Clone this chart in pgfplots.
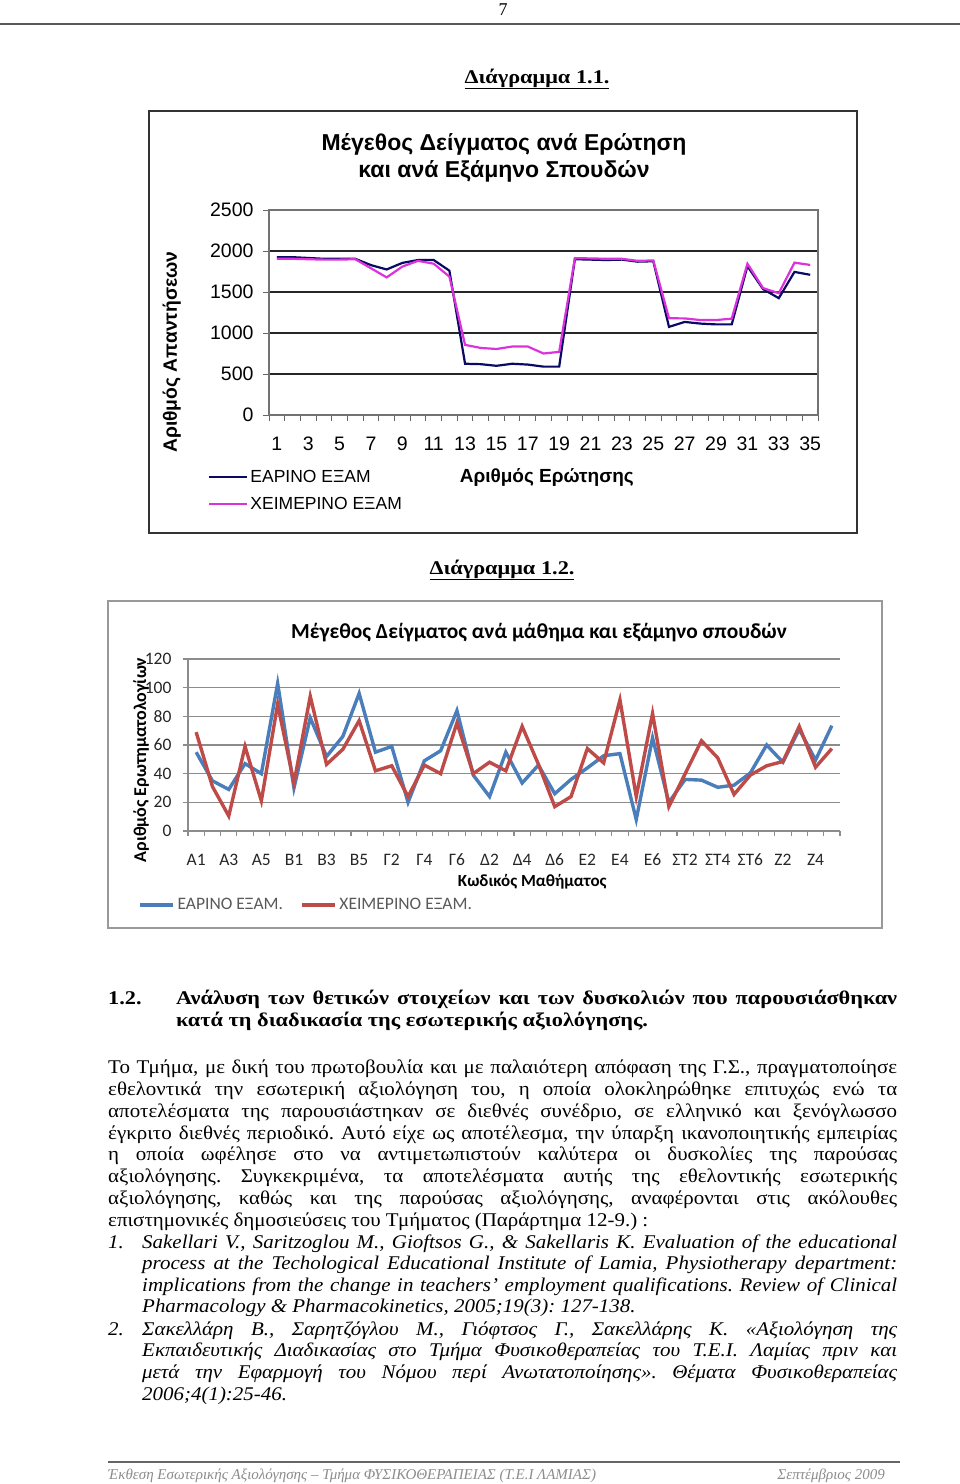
\documentclass[border=0pt]{standalone}
\usepackage{fontspec}
\setmainfont{Liberation Serif}
\newfontfamily\bodyfam[FakeStretch=1.08]{Liberation Serif}
\newfontfamily\headfam[FakeStretch=1.15]{Liberation Serif}
\newfontfamily\arialf{Liberation Sans}
\newfontfamily\calib{Carlito}
\usepackage{pgfplots}
\pgfplotsset{compat=1.18}
\definecolor{navyE}{RGB}{10,10,100}
\definecolor{magX}{RGB}{220,50,220}
\definecolor{blueE}{RGB}{74,126,187}
\definecolor{redX}{RGB}{190,75,72}
\newcommand\bodyf{\bodyfam\fontsize{19.4}{21.8}\selectfont}
\newcommand\headf{\headfam\bfseries\fontsize{19.4}{21.8}\selectfont}
\frenchspacing
\begin{document}
\begin{tikzpicture}
\path[use as bounding box, fill=white] (0pt,0pt) rectangle (960pt,-1484pt);
\begin{scope}[x=1pt,y=-1pt]
 % header
 \node[anchor=base, inner sep=0] at (503,15) {\fontsize{18}{20}\selectfont 7};
 \draw[line width=2pt, black!65] (0,24) -- (960,24);
 \node[anchor=base, inner sep=0] at (537,83) {\headf\underline{Διάγραμμα 1.1.}};
 % frame 1
 \draw[line width=1.8pt, black!80] (149,111) rectangle (857,533);
 \node[anchor=base, inner sep=0] at (504,150) {\arialf\bfseries\fontsize{23}{26}\selectfont Μέγεθος Δείγματος ανά Ερώτηση};
 \node[anchor=base, inner sep=0] at (504,177) {\arialf\bfseries\fontsize{23}{26}\selectfont και ανά Εξάμηνο Σπουδών};
 % diagram 1.2 caption
 \node[anchor=base, inner sep=0] at (502,574) {\headf\underline{Διάγραμμα 1.2.}};
 \draw[line width=2pt, black!40] (108,601) rectangle (882,928);
 \node[anchor=base, inner sep=0] at (539,638) {\calib\bfseries\fontsize{21.4}{24}\selectfont Μέγεθος Δείγματος ανά μάθημα και εξάμηνο σπουδών};
 % heading
 \node[anchor=base west, inner sep=0] at (108,1004) {\headf 1.2.};
 \node[anchor=base west, inner sep=0] at (176,1004) {\headf\makebox[721pt][s]{Ανάλυση των θετικών στοιχείων και των δυσκολιών που παρουσιάσθηκαν}};
 \node[anchor=base west, inner sep=0] at (176,1026) {\headf κατά τη διαδικασία της εσωτερικής αξιολόγησης.};
 % paragraph
 \node[anchor=base west, inner sep=0] at (108,1073) {\bodyf\makebox[789pt][s]{Το Τμήμα, με δική του πρωτοβουλία και με παλαιότερη απόφαση της Γ.Σ., πραγματοποίησε}};
 \node[anchor=base west, inner sep=0] at (108,1095) {\bodyf\makebox[789pt][s]{εθελοντικά την εσωτερική αξιολόγηση του, η οποία ολοκληρώθηκε επιτυχώς ενώ τα}};
 \node[anchor=base west, inner sep=0] at (108,1117) {\bodyf\makebox[789pt][s]{αποτελέσματα της παρουσιάστηκαν σε διεθνές συνέδριο, σε ελληνικό και ξενόγλωσσο}};
 \node[anchor=base west, inner sep=0] at (108,1139) {\bodyf\makebox[789pt][s]{έγκριτο διεθνές περιοδικό. Αυτό είχε ως αποτέλεσμα, την ύπαρξη ικανοποιητικής εμπειρίας}};
 \node[anchor=base west, inner sep=0] at (108,1160) {\bodyf\makebox[789pt][s]{η οποία ωφέλησε στο να αντιμετωπιστούν καλύτερα οι δυσκολίες της παρούσας}};
 \node[anchor=base west, inner sep=0] at (108,1182) {\bodyf\makebox[789pt][s]{αξιολόγησης. Συγκεκριμένα, τα αποτελέσματα αυτής της εθελοντικής εσωτερικής}};
 \node[anchor=base west, inner sep=0] at (108,1204) {\bodyf\makebox[789pt][s]{αξιολόγησης, καθώς και της παρούσας αξιολόγησης, αναφέρονται στις ακόλουθες}};
 \node[anchor=base west, inner sep=0] at (108,1226) {\bodyf επιστημονικές δημοσιεύσεις του Τμήματος (Παράρτημα 12-9.) :};
 % references
 \node[anchor=base west, inner sep=0] at (108,1248) {\bodyf\itshape 1.};
 \node[anchor=base west, inner sep=0] at (142,1248) {\bodyf\itshape\makebox[755pt][s]{Sakellari V., Saritzoglou M., Gioftsos G., \& Sakellaris K. Evaluation of the educational}};
 \node[anchor=base west, inner sep=0] at (142,1269) {\bodyf\itshape\makebox[755pt][s]{process at the Techological Educational Institute of Lamia, Physiotherapy department:}};
 \node[anchor=base west, inner sep=0] at (142,1291) {\bodyf\itshape\makebox[755pt][s]{implications from the change in teachers’ employment qualifications. Review of Clinical}};
 \node[anchor=base west, inner sep=0] at (142,1312) {\bodyf\itshape Pharmacology \& Pharmacokinetics, 2005;19(3): 127-138.};
 \node[anchor=base west, inner sep=0] at (108,1335) {\bodyf\itshape 2.};
 \node[anchor=base west, inner sep=0] at (142,1335) {\bodyf\itshape\makebox[755pt][s]{Σακελλάρη Β., Σαρητζόγλου Μ., Γιόφτσος Γ., Σακελλάρης Κ. «Αξιολόγηση της}};
 \node[anchor=base west, inner sep=0] at (142,1356) {\bodyf\itshape\makebox[755pt][s]{Εκπαιδευτικής Διαδικασίας στο Τμήμα Φυσικοθεραπείας του Τ.Ε.Ι. Λαμίας πριν και}};
 \node[anchor=base west, inner sep=0] at (142,1378) {\bodyf\itshape\makebox[755pt][s]{μετά την Εφαρμογή του Νόμου περί Ανωτατοποίησης». Θέματα Φυσικοθεραπείας}};
 \node[anchor=base west, inner sep=0] at (142,1400) {\bodyf\itshape 2006;4(1):25-46.};
 % footer
 \draw[line width=2pt, black!60] (108,1462) -- (900,1462);
 \node[anchor=base west, inner sep=0, text=black!45] at (108,1479) {\fontsize{15}{17}\selectfont\itshape Έκθεση Εσωτερικής Αξιολόγησης – Τμήμα ΦΥΣΙΚΟΘΕΡΑΠΕΙΑΣ (Τ.Ε.Ι ΛΑΜΙΑΣ)};
 \node[anchor=base east, inner sep=0, text=black!45] at (885,1479) {\fontsize{15}{17}\selectfont\itshape Σεπτέμβριος 2009};
\end{scope}

% ---------------- Chart 1 ----------------
\begin{axis}[
  at={(269pt,-415pt)}, anchor=south west,
  scale only axis, width=549pt, height=205pt,
  xmin=0.5, xmax=35.5, ymin=0, ymax=2500,
  xtick={0.5,1.5,...,35.5}, xticklabels={},
  extra x ticks={1,3,...,35},
  extra x tick style={major tick length=0pt, grid=none},
  ytick={0,500,...,2500},
  xtick pos=bottom, ytick pos=left,
  tick align=outside, major tick length=6pt,
  ymajorgrids, grid style={black!85, line width=1.2pt},
  axis line style={black!55, line width=1.3pt},
  tick style={black!60, line width=1pt},
  /pgf/number format/assume math mode=true,
  /pgf/number format/1000 sep={},
  ticklabel style={font=\arialf\fontsize{19.5}{21}\selectfont},
  xticklabel style={yshift=-18pt, text height=14pt, text depth=0pt},
  yticklabel style={xshift=-6pt},
  xlabel={Αριθμός Ερώτησης},
  ylabel={Αριθμός Απαντήσεων},
  xlabel style={at={(axis description cs:0.506,-0.307)}, anchor=center, font=\arialf\bfseries\fontsize{19}{21}\selectfont},
  ylabel style={at={(axis description cs:-0.177,0.307)}, anchor=center, font=\arialf\bfseries\fontsize{19.3}{21}\selectfont},
  legend cell align=left,
  legend style={at={(axis description cs:-0.111,-0.263)}, anchor=north west, draw=none, fill=none, inner sep=0pt, row sep=11pt, font=\arialf\fontsize{17.5}{19}\selectfont, nodes={inner xsep=2pt, inner ysep=1pt}},
  legend image code/.code={\draw[#1] (0pt,0pt) -- (38pt,0pt);},
]
\addplot[navyE, line width=2.2pt] coordinates {
(1,1925)(2,1925)(3,1915)(4,1905)(5,1905)(6,1905)(7,1828)(8,1775)(9,1855)(10,1890)
(11,1890)(12,1760)(13,625)(14,620)(15,600)(16,625)(17,615)(18,590)(19,590)(20,1900)
(21,1895)(22,1890)(23,1895)(24,1870)(25,1875)(26,1075)(27,1135)(28,1115)(29,1105)(30,1105)
(31,1815)(32,1535)(33,1425)(34,1745)(35,1710)};
\addlegendentry{ΕΑΡΙΝΟ ΕΞΑΜ}
\addplot[magX, line width=2.2pt] coordinates {
(1,1905)(2,1905)(3,1900)(4,1895)(5,1895)(6,1900)(7,1790)(8,1678)(9,1810)(10,1880)
(11,1845)(12,1688)(13,855)(14,818)(15,805)(16,835)(17,835)(18,750)(19,770)(20,1912)
(21,1910)(22,1905)(23,1905)(24,1880)(25,1885)(26,1180)(27,1178)(28,1158)(29,1158)(30,1175)
(31,1845)(32,1548)(33,1485)(34,1858)(35,1830)};
\addlegendentry{ΧΕΙΜΕΡΙΝΟ ΕΞΑΜ}
\end{axis}

% ---------------- Chart 2 ----------------
\begin{axis}[
  at={(188pt,-831pt)}, anchor=south west,
  scale only axis, width=652pt, height=172pt,
  xmin=-0.5, xmax=39.5, ymin=0, ymax=120,
  axis x line*=bottom, axis y line*=left,
  xtick={-0.5,0.5,...,39.5}, xticklabels={},
  extra x ticks={0,2,...,38},
  extra x tick labels={Α1,Α3,Α5,Β1,Β3,Β5,Γ2,Γ4,Γ6,Δ2,Δ4,Δ6,Ε2,Ε4,Ε6,ΣΤ2,ΣΤ4,ΣΤ6,Ζ2,Ζ4},
  extra x tick style={major tick length=0pt, grid=none},
  ytick={0,20,...,120},
  tick align=outside, major tick length=5pt,
  ymajorgrids, grid style={black!45, line width=1.3pt},
  axis line style={black!45, line width=1.3pt},
  tick style={black!45, line width=1.1pt},
  /pgf/number format/assume math mode=true,
  ticklabel style={font=\calib\fontsize{17.5}{19}\selectfont, text=black!85},
  xticklabel style={yshift=-19pt, text height=12pt, text depth=0pt},
  yticklabel style={xshift=-8pt},
  xlabel={Κωδικός Μαθήματος},
  ylabel={Αριθμός Ερωτηματολογίων},
  xlabel style={at={(axis description cs:0.528,-0.297)}, anchor=center, font=\calib\bfseries\fontsize{17}{19}\selectfont},
  ylabel style={at={(axis description cs:-0.072,0.413)}, anchor=center, font=\calib\bfseries\fontsize{18}{20}\selectfont},
  legend columns=2,
  legend style={at={(axis description cs:-0.0767,-0.43)}, anchor=west, draw=none, fill=none, inner sep=0pt, font=\calib\fontsize{17.5}{19}\selectfont, text=black!65, nodes={inner xsep=3pt, inner ysep=1pt}, /tikz/every even column/.append style={column sep=14pt}},
  legend image code/.code={\draw[#1] (0pt,0pt) -- (33pt,0pt);},
]
\addplot[blueE, line width=3.4pt] coordinates {
(0,55)(1,35)(2,29)(3,47)(4,40)(5,103)(6,30)(7,79)(8,52)(9,66)
(10,96)(11,55)(12,59)(13,20)(14,49)(15,56)(16,84)(17,39)(18,24)(19,55)
(20,33.5)(21,46)(22,26)(23,36)(24,44)(25,52.5)(26,54)(27,8)(28,65)(29,20)
(30,36)(31,35.5)(32,30.5)(33,32)(34,40.5)(35,60)(36,48)(37,71)(38,49.5)(39,73.5)};
\addlegendentry{ΕΑΡΙΝΟ ΕΞΑΜ.}
\addplot[redX, line width=3.4pt] coordinates {
(0,69)(1,31)(2,10.5)(3,59)(4,21)(5,88.5)(6,33.5)(7,94)(8,46.5)(9,57)
(10,77)(11,42)(12,45.5)(13,24)(14,46)(15,40)(16,75.5)(17,40)(18,48)(19,42)
(20,73)(21,46.5)(22,17)(23,24)(24,57.5)(25,47.5)(26,91.5)(27,24)(28,82)(29,17)
(30,40)(31,63)(32,51)(33,25.5)(34,39)(35,45.5)(36,48.5)(37,73)(38,44.5)(39,57.5)};
\addlegendentry{ΧΕΙΜΕΡΙΝΟ ΕΞΑΜ.}
\end{axis}
\end{tikzpicture}
\end{document}
